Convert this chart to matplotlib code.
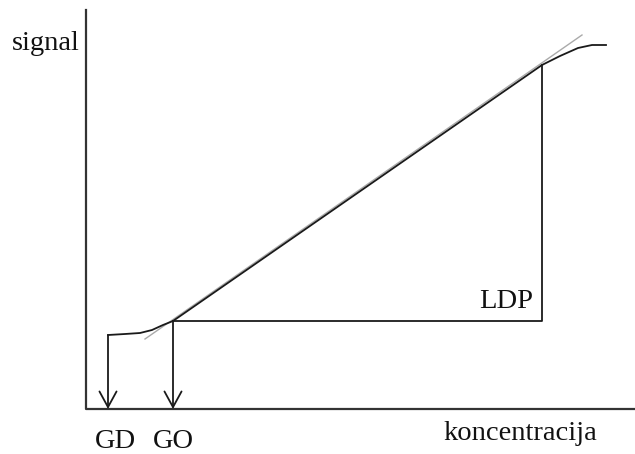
import matplotlib.pyplot as plt

plt.rcParams['font.family'] = 'Liberation Serif'
plt.rcParams['font.size'] = 20.5

# schematic, coordinates in picture units (x right, y down)
curve_x = [108, 125, 140, 152, 163, 173, 542, 560, 578, 592, 606]
curve_y = [335, 334, 333, 330, 325, 321, 65, 56, 48, 45, 45]

tangent_x = [145, 582]
tangent_y = [339, 35]

gd_x, go_x = 108, 173
ldp_x, ldp_top, ldp_y = 542, 65, 321
axis_x0, axis_y0, axis_top, axis_right = 86, 409, 10, 635

fig = plt.figure(figsize=(6.35, 4.54), dpi=100)
ax = fig.add_axes([0, 0, 1, 1])
ax.set_xlim(0, 635)
ax.set_ylim(454, 0)
ax.axis('off')

# axes
ax.plot([axis_x0, axis_x0, axis_right], [axis_top, axis_y0, axis_y0], color="#333333", linewidth=1.6)

# tangent (grey) and measured curve
ax.plot(tangent_x, tangent_y, color="#aaaaaa", linewidth=1.0)
ax.plot(curve_x, curve_y, color="#1a1a1a", linewidth=1.3)

# LDP box
ax.plot([go_x, ldp_x, ldp_x], [ldp_y, ldp_y, ldp_top], color="#1a1a1a", linewidth=1.3)

# arrows down to the axis
for x0, y0 in [(gd_x, curve_y[0]), (go_x, ldp_y)]:
    ax.annotate("", xy=(x0, axis_y0), xytext=(x0, y0),
                arrowprops=dict(arrowstyle="->,head_length=0.55,head_width=0.3",
                                color="#1a1a1a", linewidth=1.3, shrinkA=0, shrinkB=0))

ax.text(80, 43, "signal", ha="right", va="center", color="#111111")
ax.text(597, 434, "koncentracija", ha="right", va="center", color="#111111")
ax.text(115, 442, "GD", ha="center", va="center", color="#111111")
ax.text(173, 442, "GO", ha="center", va="center", color="#111111")
ax.text(533, 302, "LDP", ha="right", va="center", color="#111111")

plt.savefig("out.png", dpi=100)
